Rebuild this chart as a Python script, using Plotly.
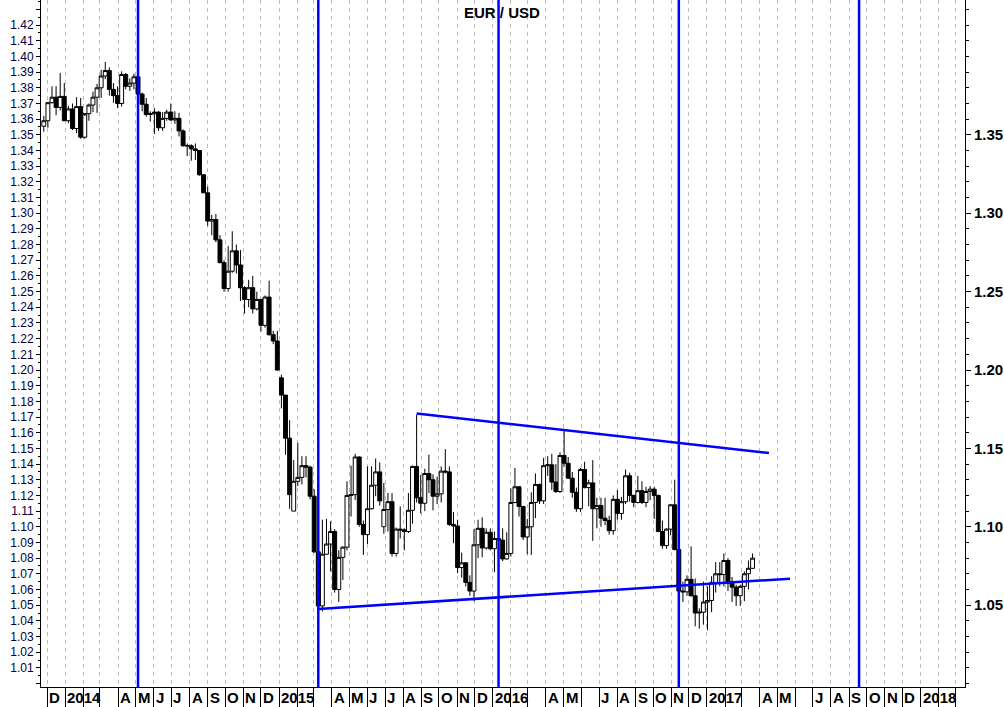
import pandas as pd
import plotly.graph_objects as go

# ---------------- data (weekly EUR/USD candles, week start dates) ----------------
first_week = "2013-11-25"

open_ = [1.3555, 1.3590, 1.3705, 1.3740, 1.3675, 1.3745, 1.3590, 1.3665, 1.3540, 1.3680,
         1.3485, 1.3635, 1.3690, 1.3740, 1.3800, 1.3875, 1.3910, 1.3790, 1.3750, 1.3700,
         1.3885, 1.3810, 1.3830, 1.3870, 1.3760, 1.3695, 1.3630, 1.3635, 1.3645, 1.3545,
         1.3605, 1.3645, 1.3595, 1.3605, 1.3525, 1.3430, 1.3430, 1.3410, 1.3400, 1.3245,
         1.3130, 1.2950, 1.2960, 1.2830, 1.2685, 1.2520, 1.2630, 1.2760, 1.2670, 1.2525,
         1.2450, 1.2525, 1.2390, 1.2450, 1.2285, 1.2465, 1.2225, 1.2185, 1.1950, 1.1840,
         1.1565, 1.1100, 1.1290, 1.1315, 1.1390, 1.1380, 1.1195, 1.0840, 1.0495, 1.0825,
         1.0890, 1.0970, 1.0600, 1.0805, 1.0870, 1.1200, 1.1205, 1.1445, 1.1015, 1.0950,
         1.1115, 1.1265, 1.1350, 1.1000, 1.1110, 1.1160, 1.0830, 1.0985, 1.0980, 1.0970,
         1.1105, 1.1385, 1.1185, 1.1150, 1.1340, 1.1300, 1.1195, 1.1210, 1.1355, 1.1350,
         1.1015, 1.1005, 1.0740, 1.0770, 1.0645, 1.0590, 1.0885, 1.0990, 1.0865, 1.0965,
         1.0860, 1.0925, 1.0915, 1.0795, 1.0830, 1.1155, 1.1255, 1.1130, 1.0935, 1.1000,
         1.1155, 1.1270, 1.1165, 1.1390, 1.1395, 1.1285, 1.1225, 1.1455, 1.1405, 1.1310,
         1.1220, 1.1115, 1.1365, 1.1250, 1.1280, 1.1115, 1.1135, 1.1055, 1.1040, 1.0975,
         1.1175, 1.1085, 1.1160, 1.1325, 1.1200, 1.1155, 1.1230, 1.1155, 1.1225, 1.1240,
         1.1200, 1.0970, 1.0880, 1.0985, 1.1140, 1.0855, 1.0590, 1.0585, 1.0665, 1.0560,
         1.0450, 1.0455, 1.0520, 1.0530, 1.0645, 1.0700, 1.0695, 1.0785, 1.0640, 1.0615,
         1.0560, 1.0620, 1.0700, 1.0735]

high = [1.3620, 1.3710, 1.3810, 1.3810, 1.3895, 1.3830, 1.3685, 1.3700, 1.3740, 1.3735,
        1.3620, 1.3700, 1.3775, 1.3825, 1.3915, 1.3965, 1.3930, 1.3830, 1.3810, 1.3905,
        1.3895, 1.3860, 1.3890, 1.3900, 1.3770, 1.3735, 1.3650, 1.3670, 1.3650, 1.3645,
        1.3660, 1.3700, 1.3650, 1.3640, 1.3535, 1.3445, 1.3440, 1.3445, 1.3400, 1.3245,
        1.3170, 1.2990, 1.2995, 1.2860, 1.2700, 1.2790, 1.2885, 1.2800, 1.2765, 1.2535,
        1.2575, 1.2600, 1.2500, 1.2455, 1.2475, 1.2570, 1.2250, 1.2250, 1.1970, 1.1840,
        1.1680, 1.1425, 1.1535, 1.1450, 1.1450, 1.1390, 1.1240, 1.0870, 1.1045, 1.1050,
        1.1035, 1.0985, 1.0850, 1.0875, 1.1290, 1.1390, 1.1465, 1.1450, 1.1040, 1.1385,
        1.1385, 1.1435, 1.1410, 1.1280, 1.1215, 1.1215, 1.0995, 1.1130, 1.0990, 1.1215,
        1.1390, 1.1715, 1.1330, 1.1370, 1.1460, 1.1335, 1.1320, 1.1385, 1.1495, 1.1385,
        1.1095, 1.1045, 1.0835, 1.0775, 1.0690, 1.0985, 1.1045, 1.1060, 1.0990, 1.0990,
        1.0970, 1.0985, 1.0990, 1.0965, 1.1245, 1.1375, 1.1260, 1.1130, 1.1050, 1.1220,
        1.1340, 1.1275, 1.1440, 1.1450, 1.1465, 1.1400, 1.1475, 1.1615, 1.1445, 1.1350,
        1.1250, 1.1375, 1.1415, 1.1300, 1.1425, 1.1185, 1.1185, 1.1185, 1.1070, 1.1200,
        1.1235, 1.1190, 1.1365, 1.1345, 1.1205, 1.1325, 1.1290, 1.1255, 1.1260, 1.1255,
        1.1205, 1.1040, 1.0990, 1.1145, 1.1300, 1.0860, 1.0650, 1.0690, 1.0875, 1.0670,
        1.0480, 1.0650, 1.0620, 1.0685, 1.0775, 1.0775, 1.0830, 1.0800, 1.0680, 1.0630,
        1.0630, 1.0715, 1.0785, 1.0830]

low = [1.3520, 1.3545, 1.3700, 1.3625, 1.3655, 1.3590, 1.3575, 1.3530, 1.3510, 1.3475,
       1.3475, 1.3590, 1.3645, 1.3640, 1.3735, 1.3855, 1.3750, 1.3705, 1.3670, 1.3680,
       1.3790, 1.3780, 1.3790, 1.3750, 1.3650, 1.3615, 1.3585, 1.3505, 1.3525, 1.3525,
       1.3590, 1.3590, 1.3570, 1.3490, 1.3425, 1.3365, 1.3335, 1.3340, 1.3240, 1.3130,
       1.2920, 1.2860, 1.2815, 1.2680, 1.2500, 1.2500, 1.2620, 1.2615, 1.2440, 1.2360,
       1.2400, 1.2360, 1.2380, 1.2245, 1.2270, 1.2220, 1.2165, 1.1995, 1.1755, 1.1460,
       1.1115, 1.1100, 1.1260, 1.1270, 1.1315, 1.1175, 1.0835, 1.0460, 1.0460, 1.0820,
       1.0715, 1.0580, 1.0520, 1.0660, 1.0850, 1.1065, 1.1170, 1.1000, 1.0820, 1.0890,
       1.1110, 1.1195, 1.1135, 1.0955, 1.0970, 1.0810, 1.0810, 1.0925, 1.0850, 1.0960,
       1.1020, 1.1155, 1.1085, 1.1100, 1.1215, 1.1105, 1.1145, 1.1155, 1.1340, 1.1005,
       1.0895, 1.0705, 1.0675, 1.0620, 1.0560, 1.0525, 1.0800, 1.0805, 1.0855, 1.0850,
       1.0710, 1.0805, 1.0780, 1.0790, 1.0810, 1.1150, 1.1065, 1.0915, 1.0825, 1.0820,
       1.1055, 1.1145, 1.1145, 1.1325, 1.1235, 1.1215, 1.1215, 1.1385, 1.1305, 1.1185,
       1.1095, 1.1095, 1.1245, 1.1130, 1.0910, 1.0990, 1.1000, 1.1010, 1.0950, 1.0950,
       1.1045, 1.1045, 1.1145, 1.1160, 1.1125, 1.1150, 1.1145, 1.1125, 1.1170, 1.1050,
       1.0965, 1.0860, 1.0860, 1.0945, 1.0850, 1.0570, 1.0520, 1.0560, 1.0555, 1.0365,
       1.0350, 1.0375, 1.0340, 1.0455, 1.0580, 1.0620, 1.0620, 1.0590, 1.0520, 1.0495,
       1.0495, 1.0525, 1.0600, 1.0730]

close = [1.3590, 1.3705, 1.3740, 1.3675, 1.3745, 1.3590, 1.3665, 1.3540, 1.3680, 1.3485,
         1.3635, 1.3690, 1.3740, 1.3800, 1.3875, 1.3910, 1.3790, 1.3750, 1.3700, 1.3885,
         1.3810, 1.3830, 1.3870, 1.3760, 1.3695, 1.3630, 1.3635, 1.3645, 1.3545, 1.3605,
         1.3645, 1.3595, 1.3605, 1.3525, 1.3430, 1.3430, 1.3410, 1.3400, 1.3245, 1.3130,
         1.2950, 1.2960, 1.2830, 1.2685, 1.2520, 1.2630, 1.2760, 1.2670, 1.2525, 1.2450,
         1.2525, 1.2390, 1.2450, 1.2285, 1.2465, 1.2225, 1.2185, 1.2000, 1.1840, 1.1565,
         1.1205, 1.1290, 1.1315, 1.1390, 1.1380, 1.1195, 1.0840, 1.0495, 1.0825, 1.0890,
         1.0970, 1.0600, 1.0805, 1.0870, 1.1200, 1.1205, 1.1445, 1.1015, 1.0950, 1.1115,
         1.1265, 1.1350, 1.1165, 1.1110, 1.1160, 1.0830, 1.0985, 1.0980, 1.0970, 1.1105,
         1.1385, 1.1185, 1.1150, 1.1340, 1.1300, 1.1195, 1.1210, 1.1355, 1.1350, 1.1015,
         1.1005, 1.0740, 1.0770, 1.0645, 1.0590, 1.0885, 1.0990, 1.0865, 1.0965, 1.0860,
         1.0925, 1.0915, 1.0795, 1.0830, 1.1155, 1.1255, 1.1130, 1.0935, 1.1000, 1.1155,
         1.1270, 1.1165, 1.1390, 1.1395, 1.1285, 1.1225, 1.1455, 1.1405, 1.1310, 1.1220,
         1.1115, 1.1365, 1.1250, 1.1280, 1.1115, 1.1135, 1.1055, 1.1040, 1.0975, 1.1175,
         1.1085, 1.1160, 1.1325, 1.1200, 1.1155, 1.1230, 1.1155, 1.1225, 1.1240, 1.1200,
         1.0970, 1.0880, 1.0985, 1.1140, 1.0855, 1.0590, 1.0585, 1.0665, 1.0560, 1.0450,
         1.0455, 1.0520, 1.0530, 1.0645, 1.0700, 1.0695, 1.0785, 1.0640, 1.0615, 1.0560,
         1.0620, 1.0700, 1.0735, 1.0800]

# cycle lines (blue verticals)
cycle_dates = ["2014-05-05", "2015-03-09", "2016-01-11", "2016-11-14", "2017-09-18"]

# trend lines
upper_x = ["2015-08-24", "2017-04-17"]
upper_y = [1.1722, 1.1470]
lower_x = ["2015-03-09", "2017-05-23"]
lower_y = [1.0476, 1.0669]

# x axis month labels (Dec 2013 .. Mar 2018)
first_month = "2013-12-01"
month_labels = ["D",
                "2014", "", "", "A", "M", "J", "J", "A", "S", "O", "N", "D",
                "2015", "", "", "A", "M", "J", "J", "A", "S", "O", "N", "D",
                "2016", "", "", "A", "M", "", "J", "A", "S", "O", "N", "D",
                "2017", "", "", "A", "M", "", "J", "A", "S", "O", "N", "D",
                "2018", "", ""]

left_tick_vals = [1.00, 1.01, 1.02, 1.03, 1.04, 1.05, 1.06, 1.07, 1.08, 1.09,
                  1.10, 1.11, 1.12, 1.13, 1.14, 1.15, 1.16, 1.17, 1.18, 1.19,
                  1.20, 1.21, 1.22, 1.23, 1.24, 1.25, 1.26, 1.27, 1.28, 1.29,
                  1.30, 1.31, 1.32, 1.33, 1.34, 1.35, 1.36, 1.37, 1.38, 1.39,
                  1.40, 1.41, 1.42, 1.43]
left_tick_text = ["", "1.01", "1.02", "1.03", "1.04", "1.05", "1.06", "1.07", "1.08", "1.09",
                  "1.10", "1.11", "1.12", "1.13", "1.14", "1.15", "1.16", "1.17", "1.18", "1.19",
                  "1.20", "1.21", "1.22", "1.23", "1.24", "1.25", "1.26", "1.27", "1.28", "1.29",
                  "1.30", "1.31", "1.32", "1.33", "1.34", "1.35", "1.36", "1.37", "1.38", "1.39",
                  "1.40", "1.41", "1.42", ""]
right_tick_vals = [1.05, 1.10, 1.15, 1.20, 1.25, 1.30, 1.35]
right_tick_text = ["1.05", "1.10", "1.15", "1.20", "1.25", "1.30", "1.35"]

title_text = "EUR / USD"
y_range = [0.9978, 1.436]
x_range = ["2013-11-20 05:00", "2018-03-18"]

# ---------------- figure ----------------
week_dates = pd.date_range(first_week, periods=len(close), freq="7D")
month_starts = pd.date_range(first_month, periods=len(month_labels), freq="MS")

BLUE = "#0000ff"
FONT = "Liberation Sans, Arial, sans-serif"

fig = go.Figure()

fig.add_trace(go.Candlestick(
    x=week_dates, open=open_, high=high, low=low, close=close,
    increasing=dict(line=dict(color="black", width=1), fillcolor="white"),
    decreasing=dict(line=dict(color="black", width=1), fillcolor="black"),
    whiskerwidth=0, showlegend=False, hoverinfo="skip"))

fig.add_trace(go.Scatter(x=upper_x, y=upper_y, mode="lines",
                         line=dict(color=BLUE, width=2.5), showlegend=False, hoverinfo="skip"))
fig.add_trace(go.Scatter(x=lower_x, y=lower_y, mode="lines",
                         line=dict(color=BLUE, width=2.5), showlegend=False, hoverinfo="skip"))
# invisible trace to activate right axis
fig.add_trace(go.Scatter(x=[week_dates[0]], y=[close[0]], yaxis="y2", mode="markers",
                         marker=dict(opacity=0), showlegend=False, hoverinfo="skip"))

for d in cycle_dates:
    fig.add_shape(type="line", xref="x", yref="paper", x0=d, x1=d, y0=0, y1=1,
                  line=dict(color=BLUE, width=2.5), layer="above")

annotations = []
for m, lab in zip(month_starts, month_labels):
    if lab:
        annotations.append(dict(x=m, y=0, xref="x", yref="paper", text=lab, showarrow=False,
                                xanchor="left", yanchor="top", xshift=0, yshift=0,
                                font=dict(family=FONT, size=15, color="black", weight="bold")))
annotations.append(dict(x=0.499, y=1, xref="paper", yref="paper", text=title_text, showarrow=False,
                        xanchor="center", yanchor="top", yshift=-2,
                        font=dict(family=FONT, size=15, color="black", weight="bold")))

fig.update_layout(
    width=1004, height=707,
    margin=dict(l=41, r=39, t=0, b=20, pad=0),
    paper_bgcolor="white", plot_bgcolor="white",
    boxgap=0.0, boxgroupgap=0.05,
    hovermode=False,
    annotations=annotations,
    xaxis=dict(type="date", range=x_range, rangeslider=dict(visible=False),
               tickmode="array", tickvals=month_starts, showticklabels=False,
               ticks="outside", ticklen=20, tickcolor="black", tickwidth=1,
               showgrid=True, gridcolor="#bcbcbc", gridwidth=1, griddash="4px,4px",
               showline=True, linecolor="black", linewidth=1, zeroline=False),
    yaxis=dict(range=y_range, tickmode="array", tickvals=left_tick_vals, ticktext=left_tick_text,
               ticks="outside", ticklen=4, tickcolor="black", showgrid=False, zeroline=False,
               showline=True, linecolor="black", linewidth=1,
               minor=dict(tickmode="linear", tick0=1.005, dtick=0.01, ticks="outside",
                          ticklen=2, tickcolor="black", showgrid=False),
               tickfont=dict(family=FONT, size=12, color="#000040")),
    yaxis2=dict(range=y_range, overlaying="y", side="right", anchor="x",
                tickmode="array", tickvals=right_tick_vals, ticktext=right_tick_text,
                ticks="outside", ticklen=5, tickcolor="black", showgrid=False, zeroline=False,
                showline=True, linecolor="black", linewidth=1,
                minor=dict(tickmode="linear", tick0=1.0, dtick=0.01, ticks="outside",
                           ticklen=3, tickcolor="black", showgrid=False),
                tickfont=dict(family=FONT, size=15, color="black", weight="bold")),
)

fig.write_html("out.html",
               config={"staticPlot": True, "displayModeBar": False},
               post_script="document.body.style.margin='0px';document.body.style.padding='0px';"
                           "document.body.style.overflow='hidden';")
